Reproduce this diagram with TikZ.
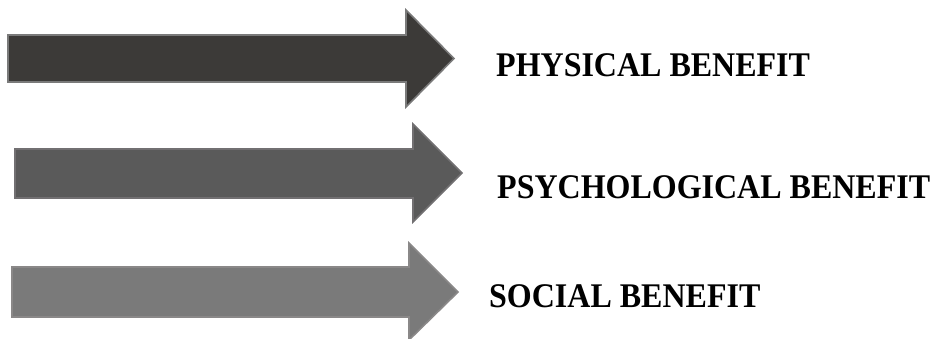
\documentclass[tikz,border=0pt]{standalone}
\usepackage{graphicx}
\usepackage{fontspec}
\setmainfont{Liberation Serif}
\definecolor{fillA}{HTML}{3C3A38}
\definecolor{lineA}{HTML}{7A7A7A}
\definecolor{fillB}{HTML}{5A5A5A}
\definecolor{lineB}{HTML}{727072}
\definecolor{fillC}{HTML}{7A7A7A}
\definecolor{lineC}{HTML}{8A8888}
\newcommand{\tallbf}[1]{\scalebox{1}[1.08]{#1}}
\tikzset{
  bigarrow/.style={line width=1.6pt, line join=miter},
  label/.style={anchor=base west, inner sep=0pt, font=\fontsize{32}{32}\selectfont\bfseries}
}
\begin{document}
\begin{tikzpicture}[x=1pt,y=-1pt]
\useasboundingbox (0,0) rectangle (931,338);
% arrow 1
\draw[bigarrow, fill=fillA, draw=lineA]
  (8,35) -- (406,35) -- (406,10) -- (454,58.5) -- (406,107) -- (406,82) -- (8,82) -- cycle;
% arrow 2
\draw[bigarrow, fill=fillB, draw=lineB]
  (15,149) -- (413,149) -- (413,124) -- (462,173) -- (413,222) -- (413,198) -- (15,198) -- cycle;
% arrow 3
\draw[bigarrow, fill=fillC, draw=lineC]
  (12,267) -- (409,267) -- (409,243) -- (458,292) -- (409,340) -- (409,317) -- (12,317) -- cycle;
\node[label] (t1) at (496,76) {\tallbf{PHYSICAL BENEFIT}};
\node[label] (t2) at (497,198) {\tallbf{PSYCHOLOGICAL BENEFIT}};
\node[label] (t3) at (489,307) {\tallbf{SOCIAL BENEFIT}};
\end{tikzpicture}
\end{document}
